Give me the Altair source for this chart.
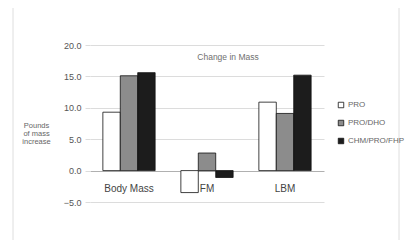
import altair as alt
import pandas as pd

categories = ["Body Mass", "FM", "LBM"]
groups = ["PRO", "PRO/DHO", "CHM/PRO/FHP"]
pro = [9.3, -3.5, 10.9]
pro_dho = [15.1, 2.8, 9.1]
chm = [15.6, -1.1, 15.2]
y_ticks = [-5, 0, 5, 10, 15, 20]
colors = ["#ffffff", "#8c8c8c", "#1c1c1c"]

rows = []
for i, c in enumerate(categories):
    for g, vals in zip(groups, [pro, pro_dho, chm]):
        rows.append({"cat": c, "grp": g, "val": vals[i]})
df = pd.DataFrame(rows)
cat_df = pd.DataFrame({"cat": categories})

xscale = alt.Scale(domain=categories, paddingInner=0.33, paddingOuter=0.165)
yscale = alt.Scale(domain=[-5, 20], nice=False)

frame = alt.Chart(pd.DataFrame({"f": [0]})).mark_rect(
    fill=None, stroke="#dedede", strokeWidth=1
).encode(x=alt.value(-77), x2=alt.value(309), y=alt.value(-41), y2=alt.value(196))

bars = alt.Chart(df).mark_bar(stroke="#111111", strokeWidth=0.8).encode(
    x=alt.X("cat:N", scale=xscale, sort=categories, axis=None),
    xOffset=alt.XOffset("grp:N", sort=groups, scale=alt.Scale(domain=groups, paddingInner=0, paddingOuter=0)),
    y=alt.Y("val:Q", scale=yscale,
            axis=alt.Axis(values=y_ticks, format=".1f", domain=False, grid=True, labelOverlap=False,
                          gridColor=alt.condition("datum.value == 0", alt.value("#b0b0b0"), alt.value("#dcdcdc")),
                          gridWidth=1, tickColor="#dcdcdc", tickSize=5,
                          labelPadding=4, labelFontSize=9, labelColor="#555555", labelFont="Liberation Sans",
                          title=["Pounds", "of mass", "increase"], titleAngle=0, titleAlign="center",
                          titleBaseline="middle", titleX=-54, titleY=80, titleFontSize=7.5,
                          titleFontWeight="normal", titleColor="#666666", titleLineHeight=8,
                          titleFont="Liberation Sans")),
    color=alt.Color("grp:N", sort=groups, scale=alt.Scale(domain=groups, range=colors),
                    legend=alt.Legend(title=None, orient="none", legendX=247, legendY=56,
                                      symbolType="square", symbolSize=30, symbolStrokeColor="#111111",
                                      symbolStrokeWidth=0.8, labelFontSize=8, labelColor="#666666",
                                      labelFont="Liberation Sans", rowPadding=8, labelOffset=3)),
)

labels = alt.Chart(cat_df).mark_text(fontSize=10, color="#444444", font="Liberation Sans", dy=18,
                                     baseline="middle").encode(
    x=alt.X("cat:N", scale=xscale, sort=categories, axis=None),
    y=alt.Y(datum=0, scale=yscale, axis=None),
    text="cat:N",
)

title = alt.Chart(pd.DataFrame({"t": ["Change in Mass"]})).mark_text(
    fontSize=8.5, color="#707070", font="Liberation Sans", baseline="middle"
).encode(x=alt.value(138), y=alt.value(12), text="t:N")

chart = alt.layer(frame, bars, labels, title).resolve_axis(y="independent").properties(
    width=234, height=157,
    autosize=alt.AutoSizeParams(type="none"),
    padding={"left": 82, "top": 37, "right": 84, "bottom": 38},
).configure_view(stroke=None)

chart.save("out.html", embed_options={"renderer": "svg", "actions": False})
